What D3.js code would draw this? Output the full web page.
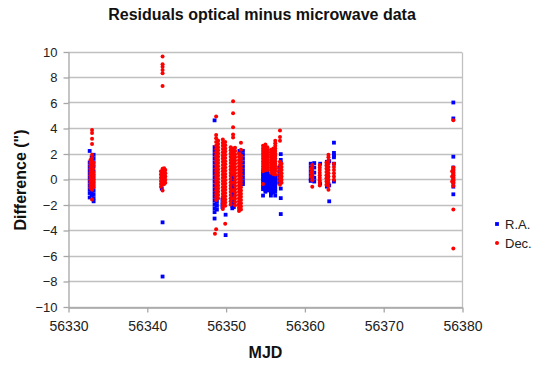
<!DOCTYPE html>
<html>
<head>
<meta charset="utf-8">
<script src="https://cdn.jsdelivr.net/npm/d3@7/dist/d3.min.js"></script>
<style>
  html, body { margin: 0; padding: 0; background: #fff; }
  svg { display: block; font-family: "Liberation Sans", Arial, sans-serif; }
</style>
</head>
<body>
<svg id="chart" width="539" height="367"></svg>
<script>
// Axis ticks
const xTicks = [56330, 56340, 56350, 56360, 56370, 56380];
const yTicks = [-10, -8, -6, -4, -2, 0, 2, 4, 6, 8, 10];

// R.A. residuals (arcsec), grouped by observation column (MJD)
const raMjd = [
  56332.75, 56333.0, 56333.25,
  56341.9, 56342.0,
  56348.6, 56348.9, 56349.6, 56350.0,
  56350.85, 56351.05, 56352.2, 56351.75,
  56354.75, 56355.05, 56355.3, 56355.75, 56356.05, 56356.3, 56357.0, 56356.8,
  56360.8, 56361.25, 56362.0, 56362.85, 56363.15, 56363.75,
  56378.9
];
const raValues = [
  [2.2, 1.3, 1.0, 0.7, 0.4, 0.1, -0.2, -0.5, -0.8, -1.1, -1.45],
  [1.7, 1.4, 1.1, 0.8, 0.5, 0.2, -0.1, -0.4, -0.7, -1.0, -1.25],
  [1.9, 1.6, 1.3, 1.0, 0.6, 0.3, 0.0, -0.3, -0.6, -0.9, -1.2, -1.5, -1.75],
  [0.5, 0.1, -0.3, -0.75],
  [-3.4, -7.65],
  [4.6, 2.5, 2.2, 1.9, 1.6, 1.3, 1.0, 0.7, 0.4, 0.1, -0.2, -0.5, -0.8, -1.1, -1.4, -1.7, -2.0, -2.3, -2.6, -3.1],
  [-1.8, -2.1, -2.4],
  [-1.6, -1.9, -2.2],
  [-2.8, -4.4],
  [2.1, 1.5, 0.9, 0.3, 0.1, -0.1, -0.3, -0.5, -0.7, -0.9, -1.1, -1.3, -1.5, -1.7, -1.9, -2.1, -2.3],
  [0.2, 0.0, -0.2, -0.4, -0.6, -0.8, -1.0, -1.2, -1.4, -1.6, -1.8, -2.0, -2.2],
  [2.2, 1.9, 1.6, 1.3, 1.0, 0.7, 0.4, 0.1, -0.2, -0.4],
  [2.2, -2.0, -2.3],
  [0.6, 0.4, 0.2, 0.0, -0.2, -0.4, -0.6, -0.8, -1.3],
  [0.55, 0.35, 0.15, -0.05, -0.25, -0.45, -0.65, -0.85, -1.0],
  [0.5, 0.3, 0.1, -0.1, -0.3, -0.5, -0.7, -0.9],
  [0.3, 0.1, -0.1, -0.3, -0.5, -0.7, -0.9, -1.1, -1.3],
  [0.35, 0.15, -0.05, -0.25, -0.45, -0.65, -0.85, -1.05],
  [0.2, 0.0, -0.2, -0.4, -0.6, -0.8, -1.0, -1.3],
  [1.95, 1.5, 1.25, -0.75, -1.5, -2.75],
  [0.9, 0.6, 0.3, 0.0, -0.3],
  [1.2, 0.9, 0.6, 0.3, 0.0, -0.15],
  [1.25, 0.9, 0.5, 0.1, -0.2],
  [1.2, -0.35],
  [1.35, 1.1, -0.6],
  [1.4, -0.5, -1.75],
  [2.85, 2.05, 1.85, 1.7, 1.2, -0.2],
  [6.0, 4.75, 1.75, 0.9, 0.6, 0.3, 0.0, -0.3, -0.6, -1.2]
];

// Dec. residuals (arcsec), grouped by observation column (MJD)
const decMjd = [
  56332.85, 56333.05, 56333.2,
  56342.0, 56341.8, 56342.2, 56342.35,
  56348.8, 56349.05, 56348.65,
  56349.65, 56349.95,
  56350.65, 56350.95, 56351.2,
  56351.7, 56351.95,
  56354.75, 56355.05, 56355.3, 56355.75, 56356.05, 56356.3, 56356.9, 56357.1,
  56361.0, 56360.85, 56361.95, 56362.8, 56363.05, 56363.75,
  56378.9, 56378.75
];
const decValues = [
  [1.5, 1.25, 1.0, 0.75, 0.5, 0.3, 0.1, -0.1, -0.3, -0.5, -0.7],
  [3.85, 3.6, 3.15, 2.75, 1.9, 1.65, 1.4, 1.15, 0.9, 0.7, 0.5, 0.3, 0.1, -0.1, -0.3, -0.5, -0.7, -0.85, -1.6],
  [1.3, 1.05, 0.8, 0.55, 0.35, 0.15, -0.05, -0.25, -0.45, -0.65],
  [9.6, 9.0, 8.8, 8.55, 8.3, 7.3, 0.8, 0.55, 0.3, 0.05, -0.2, -0.45, -0.9],
  [0.6, 0.35, 0.1, -0.15, -0.4, -0.6],
  [0.85, 0.6, 0.35, 0.1, -0.15, -0.4],
  [0.7, 0.45, 0.2, -0.05, -0.3],
  [4.9, 3.45, 3.2, 2.9, 2.6, 2.35, 2.1, 1.85, 1.6, 1.35, 1.1, 0.85, 0.6, 0.35, 0.1, -0.15, -0.4, -0.65, -0.9, -1.15, -1.4, -1.65, -3.95],
  [3.0, 2.75, 2.5, 2.25, 2.0, 1.75, 1.5, 1.25, 1.0, 0.75, 0.5, 0.25, 0.0, -0.25, -0.5, -0.75, -1.0, -1.25, -1.5],
  [-4.3],
  [3.1, 2.85, 2.6, 2.35, 2.1, 1.85, 1.6, 1.35, 1.1, 0.85, 0.6, 0.35, 0.1, -0.15, -0.4, -0.65, -0.9, -1.15, -1.4, -1.65, -1.9, -2.15, -2.35],
  [2.9, 2.65, 2.4, 2.15, 1.9, 1.65, 1.4, 1.15, 0.9, 0.65, 0.4, 0.15, -0.1, -0.35, -0.6, -0.85, -1.1, -1.35, -1.6, -1.85, -2.1, -3.5],
  [2.5, 2.25, 2.0, 1.75, 1.5, 1.25, 1.0, 0.75, 0.5, 0.25, 0.0, -0.25, -0.5, -0.75, -1.0, -1.25, -1.5, -1.75, -2.0],
  [6.1, 5.15, 4.05, 3.5, 3.25, 2.4, 2.15, 1.9, 1.65, 1.4, 1.15, 0.9, 0.65, 0.4, -0.3, -0.9, -1.5],
  [2.45, 2.2, 1.95, 1.7, 1.45, 1.2, 0.95, 0.7, 0.45, 0.2, -0.05, -0.3, -0.55, -0.8, -1.05, -1.3, -1.55, -1.8, -2.05],
  [2.0, 1.75, 1.5, 1.25, 1.0, 0.75, 0.5, 0.25, 0.0, -0.25, -0.5, -0.75, -1.0, -1.25, -1.5, -1.75, -2.0, -2.25, -2.5],
  [2.85, 2.3, 1.85, 1.6, 1.35, 1.1, 0.85, 0.6, 0.35, 0.1, -0.15, -0.4, -0.65, -0.9, -1.15, -1.4, -1.65, -1.9, -2.15, -2.4],
  [2.6, 2.4, 2.2, 2.0, 1.8, 1.6, 1.4, 1.2, 1.0, 0.8, 0.6, -0.4],
  [2.7, 2.5, 2.3, 2.1, 1.9, 1.7, 1.5, 1.3, 1.1, 0.9, 0.7],
  [2.5, 2.3, 2.1, 1.9, 1.7, 1.5, 1.3, 1.1, 0.9, 0.7],
  [2.3, 2.1, 1.9, 1.7, 1.5, 1.3, 1.1, 0.9, 0.7, 0.5],
  [2.4, 2.2, 2.0, 1.8, 1.6, 1.4, 1.2, 1.0, 0.8, 0.6, 0.4],
  [3.0, 2.8, 2.6, 2.4, 2.2, 2.0, 1.8, 1.6, 1.4, 1.2, 1.0, 0.8, 0.6, 0.35],
  [3.8, 3.3, 3.0, 1.35, 1.1, 0.85, 0.6, 0.35, 0.1, -0.15, -0.45],
  [1.2, 0.95, 0.7, 0.45, 0.2, -0.05, -0.3],
  [1.1, 0.9, 0.7, 0.5, 0.3, 0.1, -0.1, -0.6],
  [0.8, 0.5, 0.2],
  [1.1, 0.9, 0.7, 0.5, 0.3, 0.1, -0.1, -0.3, -0.5],
  [1.3, 1.05, 0.8, 0.55, 0.3, 0.05, -0.2, -0.45],
  [1.9, 1.7, 1.45, 1.2, 0.95, 0.7, 0.45, 0.2, -0.05, -0.3, -0.55, -0.85],
  [1.2, 0.95, 0.7, 0.45, 0.2, -0.05],
  [4.6, 0.9, 0.7, 0.5, 0.3, 0.1, -0.1, -0.3, -0.55, -2.4, -5.45],
  [0.6, 0.2, -0.2]
];

// Flatten columns into individual points
function toPoints(mjds, values) {
  return mjds.flatMap((m, i) => values[i].map(v => ({ mjd: m, value: v })));
}
const raPoints = toPoints(raMjd, raValues);
const decPoints = toPoints(decMjd, decValues);

const svg = d3.select("#chart");
const plot = { left: 68, right: 462, top: 51.5, bottom: 306.5 };

const x = d3.scaleLinear().domain([56330, 56380]).range([plot.left, plot.right]);
const y = d3.scaleLinear().domain([-10, 10]).range([plot.bottom, plot.top]);

const gridColor = "#c0c0c0";
const axisColor = "#a6a6a6";

// Horizontal gridlines
svg.append("g")
  .selectAll("line")
  .data(yTicks)
  .join("line")
  .attr("x1", plot.left).attr("x2", plot.right)
  .attr("y1", d => Math.round(y(d)) + 0.5)
  .attr("y2", d => Math.round(y(d)) + 0.5)
  .attr("stroke", gridColor)
  .attr("stroke-width", 1.3);

// Right edge of the plot area
svg.append("line")
  .attr("x1", plot.right + 0.5).attr("x2", plot.right + 0.5)
  .attr("y1", Math.round(plot.top) + 0.5).attr("y2", Math.round(plot.bottom) + 0.5)
  .attr("stroke", gridColor)
  .attr("stroke-width", 1.3);

// Y axis
const yAxis = svg.append("g")
  .attr("transform", `translate(${plot.left + 0.5},0.5)`)
  .call(d3.axisLeft(y).tickValues(yTicks).tickSize(5).tickPadding(6).tickSizeOuter(0)
    .tickFormat(d3.format("d")));
yAxis.select(".domain").attr("stroke", axisColor).attr("stroke-width", 1.3);
yAxis.selectAll(".tick line").attr("stroke", axisColor).attr("stroke-width", 1.3);
yAxis.selectAll(".tick text")
  .attr("font-size", 13).attr("fill", "#222")
  .style("font-family", "'Liberation Sans', Arial, sans-serif");

// X axis
const xAxis = svg.append("g")
  .attr("transform", `translate(0.5,${Math.round(plot.bottom) + 0.5})`)
  .call(d3.axisBottom(x).tickValues(xTicks).tickSize(5).tickPadding(9).tickSizeOuter(0)
    .tickFormat(d3.format("d")));
xAxis.select(".domain").attr("stroke", axisColor).attr("stroke-width", 1.3);
xAxis.selectAll(".tick line").attr("stroke", axisColor).attr("stroke-width", 1.3);
xAxis.selectAll(".tick text")
  .attr("font-size", 14).attr("fill", "#222")
  .style("font-family", "'Liberation Sans', Arial, sans-serif");

// R.A. markers (blue squares)
const sq = 3.8;
svg.append("g")
  .selectAll("rect")
  .data(raPoints)
  .join("rect")
  .attr("x", d => x(d.mjd) - sq / 2)
  .attr("y", d => y(d.value) - sq / 2)
  .attr("width", sq).attr("height", sq)
  .attr("fill", "#0000ff");

// Dec. markers (red dots)
const dotR = 2.0;
svg.append("g")
  .selectAll("circle")
  .data(decPoints)
  .join("circle")
  .attr("cx", d => x(d.mjd))
  .attr("cy", d => y(d.value))
  .attr("r", dotR)
  .attr("fill", "#ff0000");

// Title
svg.append("text")
  .attr("x", 262).attr("y", 20)
  .attr("text-anchor", "middle")
  .attr("font-size", 16).attr("font-weight", "bold").attr("fill", "#111")
  .text("Residuals optical minus microwave data");

// Axis titles
svg.append("text")
  .attr("x", 265.5).attr("y", 358)
  .attr("text-anchor", "middle")
  .attr("font-size", 16).attr("font-weight", "bold").attr("fill", "#111")
  .text("MJD");

svg.append("text")
  .attr("transform", "translate(26,180) rotate(-90)")
  .attr("text-anchor", "middle")
  .attr("font-size", 16).attr("font-weight", "bold").attr("fill", "#111")
  .text("Difference (\")");

// Legend
const legend = svg.append("g");
legend.append("rect")
  .attr("x", 497 - sq / 2).attr("y", 224 - sq / 2)
  .attr("width", sq).attr("height", sq).attr("fill", "#0000ff");
legend.append("circle")
  .attr("cx", 497).attr("cy", 243).attr("r", dotR).attr("fill", "#ff0000");
legend.append("text")
  .attr("x", 505).attr("y", 228.5)
  .attr("font-size", 13).attr("fill", "#222")
  .text("R.A.");
legend.append("text")
  .attr("x", 505).attr("y", 248)
  .attr("font-size", 13).attr("fill", "#222")
  .text("Dec.");
</script>
</body>
</html>
